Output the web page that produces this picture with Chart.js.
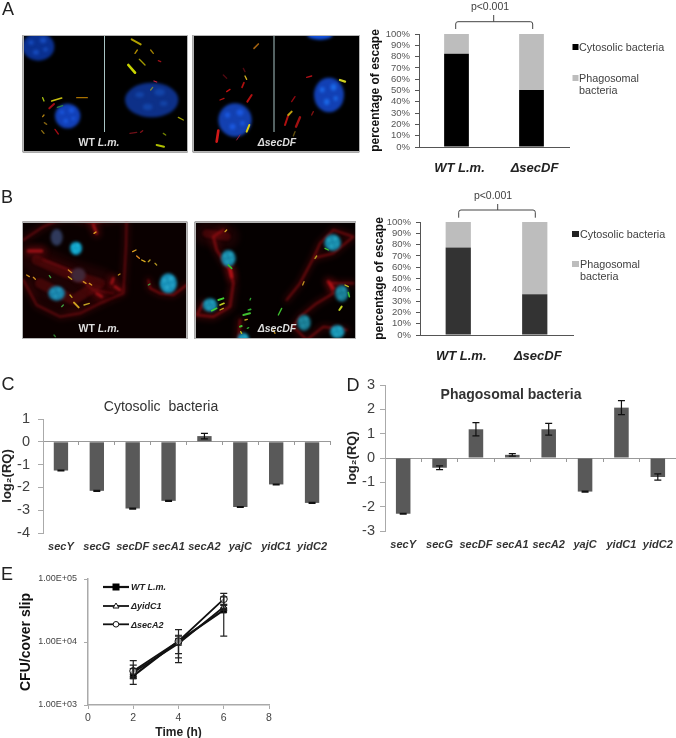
<!DOCTYPE html>
<html>
<head>
<meta charset="utf-8">
<script src="https://cdn.jsdelivr.net/npm/chart.js@4"></script>
<style>
html,body{margin:0;padding:0;background:#fff}
#page{position:relative;width:676px;height:738px;overflow:hidden;background:#fff;font-family:"Liberation Sans",Arial,sans-serif}
#page canvas{position:absolute;display:block}
#page svg{position:absolute;left:0;top:0}
.t{position:absolute;white-space:nowrap;transform:translate(-50%,-50%);line-height:1}
.l{position:absolute;white-space:nowrap;transform:translateY(-50%);line-height:1}
</style>
</head>
<body>
<div id="page"></div>
<script>
// ---------- data ----------
const escapeCategories = ['WT L.m.', '\u0394secDF'];
const cytosolicA = [82.5, 50.5];
const phagosomalA = [17.5, 49.5];
const cytosolicB = [77.5, 36];
const phagosomalB = [22.5, 64];
const geneCategories = ['secY', 'secG', 'secDF', 'secA1', 'secA2', 'yajC', 'yidC1', 'yidC2'];
const cytosolicRQ = [-1.26, -2.15, -2.93, -2.59, 0.25, -2.86, -1.87, -2.68];
const cytosolicErr = [0.02, 0.02, 0.02, 0.02, 0.12, 0.02, 0.02, 0.02];
const phagosomalRQ = [-2.29, -0.40, 1.18, 0.13, 1.18, -1.38, 2.07, -0.78];
const phagosomalErr = [0.02, 0.08, 0.27, 0.05, 0.24, 0.02, 0.29, 0.13];
const hours = [2, 4, 6];
const wtCFU = [2900, 10300, 32100];
const wtLow = [2130, 4700, 12400];
const wtHigh = [4280, 15700, 52000];
const yidCFU = [3270, 9450, 36000];
const yidLow = [2790, 6550, 32000];
const yidHigh = [3780, 12800, 39500];
const secCFU = [3470, 10300, 48000];
const secLow = [2620, 5600, 38000];
const secHigh = [5080, 12400, 59000];
const logTicks = [1000, 10000, 100000];
const logTickLabels = ['1.00E+03', '1.00E+04', '1.00E+05'];

// ---------- helpers ----------
const page = document.getElementById('page');
const FF = '"Liberation Sans", Arial, sans-serif';
function addCanvas(left, top, w, h) {
  const c = document.createElement('canvas');
  c.width = w; c.height = h;
  c.style.left = left + 'px'; c.style.top = top + 'px';
  c.style.width = w + 'px'; c.style.height = h + 'px';
  page.appendChild(c);
  return c;
}
function text(cls, x, y, html, size, color, weight, style) {
  const d = document.createElement('div');
  d.className = cls;
  d.style.left = x + 'px'; d.style.top = y + 'px';
  d.style.fontSize = size + 'px'; d.style.color = color;
  if (weight) d.style.fontWeight = weight;
  if (style) d.style.fontStyle = style;
  d.innerHTML = html;
  page.appendChild(d);
}
const errorBars = {
  id: 'errorBars',
  afterDatasetsDraw(chart) {
    const ctx = chart.ctx;
    chart.data.datasets.forEach((ds, i) => {
      if (!ds.errLow) return;
      const meta = chart.getDatasetMeta(i);
      const ys = chart.scales.y;
      ctx.save();
      ctx.strokeStyle = ds.errColor || '#111';
      ctx.lineWidth = ds.errWidth || 1;
      meta.data.forEach((el, k) => {
        const x = el.x, a = ys.getPixelForValue(ds.errLow[k]), b = ys.getPixelForValue(ds.errHigh[k]), cap = ds.errCap || 3.5;
        ctx.beginPath();
        ctx.moveTo(x, a); ctx.lineTo(x, b);
        ctx.moveTo(x - cap, a); ctx.lineTo(x + cap, a);
        ctx.moveTo(x - cap, b); ctx.lineTo(x + cap, b);
        ctx.stroke();
      });
      ctx.restore();
    });
  }
};
function fixedW(w) { return s => { s.width = w; s.paddingTop = 0; s.paddingBottom = 0; }; }
function fixedH(h) { return s => { s.height = h; s.paddingLeft = 0; s.paddingRight = 0; }; }

function escapeChart(box, dark, cyto, phago) {
  const cv = addCanvas(box.left, box.top, box.w, box.h);
  new Chart(cv, {
    type: 'bar',
    data: { labels: escapeCategories, datasets: [
      { label: 'Cytosolic bacteria', data: cyto, backgroundColor: dark, categoryPercentage: 0.33, barPercentage: 1 },
      { label: 'Phagosomal bacteria', data: phago, backgroundColor: '#bdbdbd', categoryPercentage: 0.33, barPercentage: 1 }
    ]},
    options: {
      responsive: false, animation: false, devicePixelRatio: 1,
      layout: { autoPadding: false, padding: { top: box.pt, right: box.pr, left: 0, bottom: 0 } },
      plugins: { legend: { display: false }, tooltip: { enabled: false } },
      scales: {
        x: { stacked: true, afterFit: fixedH(box.mb),
          grid: { display: false, drawTicks: false }, border: { display: true, color: '#555', width: 1 },
          ticks: { padding: box.lp, labelOffset: 3, autoSkip: false, minRotation: 0, maxRotation: 0, color: '#222',
            font: { family: FF, size: 13, weight: 'bold', style: 'italic' } } },
        y: { stacked: true, min: 0, max: 100, afterFit: fixedW(box.ml),
          grid: { drawOnChartArea: false, tickLength: 4, tickColor: '#555' }, border: { color: '#555', width: 1 },
          title: { display: true, text: 'percentage of escape', color: '#111', padding: 0, font: { family: FF, size: 12, weight: 'bold' } },
          ticks: { stepSize: 10, autoSkip: false, padding: 5, color: '#555', callback: v => v + '%', font: { family: FF, size: 9.5 } } }
      }
    }
  });
}
function geneChart(box, vals, errs, min, max) {
  const cv = addCanvas(box.left, box.top, box.w, box.h);
  new Chart(cv, {
    type: 'bar',
    plugins: [errorBars],
    data: { labels: geneCategories, datasets: [{
      label: box.name, data: vals, backgroundColor: '#595959', xAxisID: 'x', yAxisID: 'y',
      categoryPercentage: 0.4, barPercentage: 1,
      errLow: vals.map((v, i) => v - errs[i]), errHigh: vals.map((v, i) => v + errs[i]), errCap: 3.5, errWidth: 1.2
    }]},
    options: {
      responsive: false, animation: false, devicePixelRatio: 1,
      layout: { autoPadding: false, padding: { top: box.pt, right: box.pr, left: 0, bottom: 0 } },
      plugins: { legend: { display: false }, tooltip: { enabled: false } },
      scales: {
        x: { position: 'bottom', afterFit: fixedH(box.mb), grid: { display: false, drawTicks: false }, border: { display: false },
          ticks: { padding: box.lp, autoSkip: false, minRotation: 0, maxRotation: 0, color: '#333',
            font: { family: FF, size: 11, weight: 'bold', style: 'italic' } } },
        x0: { type: 'category', labels: geneCategories, position: { y: 0 }, afterFit: fixedH(0), grid: { drawOnChartArea: false, offset: true, tickLength: 3, tickColor: '#999' },
          border: { color: '#999', width: 1 }, ticks: { display: false } },
        y: { min, max, afterFit: fixedW(box.ml),
          grid: { drawOnChartArea: false, tickLength: 5, tickColor: '#aaa' }, border: { color: '#aaa', width: 1 },
          title: { display: true, text: 'log\u2082(RQ)', color: '#222', padding: 0, font: { family: FF, size: 13, weight: 'bold' } },
          ticks: { stepSize: 1, autoSkip: false, padding: box.yp, color: '#404040', font: { family: FF, size: 14.5 } } }
      }
    }
  });
}

// ---------- micrographs (illustrative images, not data) ----------
const mc = addCanvas(0, 0, 676, 738).getContext('2d');
function panel(x0, y0, x1, y1, bg, paint) {
  // geometry given in 3x crop pixels
  mc.save();
  mc.fillStyle = bg;
  mc.fillRect(x0 / 3, y0 / 3, (x1 - x0) / 3, (y1 - y0) / 3);
  mc.beginPath(); mc.rect(x0 / 3, y0 / 3, (x1 - x0) / 3, (y1 - y0) / 3); mc.clip();
  paint();
  mc.restore();
  mc.strokeStyle = '#b5b5b5'; mc.lineWidth = 1;
  mc.strokeRect(Math.round(x0 / 3) + .5, Math.round(y0 / 3) + .5, Math.round((x1 - x0) / 3) - 1, Math.round((y1 - y0) / 3) - 1);
}
function nuc(n) {
  const [x, y, rx, ry, c, hi] = n;
  mc.save();
  mc.filter = 'blur(1.5px)';
  mc.translate(x / 3, y / 3); mc.scale(rx / 3, ry / 3);
  mc.fillStyle = c;
  mc.beginPath(); mc.arc(0, 0, 1, 0, 7); mc.fill();
  if (hi) {
    mc.fillStyle = hi;
    [[-.45, -.3, .16], [.3, -.45, .2], [.45, .2, .14], [-.15, .4, .18]].forEach(p => { mc.beginPath(); mc.arc(p[0], p[1], p[2], 0, 7); mc.fill(); });
  }
  mc.restore();
}
function rods(list, defW) {
  mc.save();
  mc.filter = 'blur(0.7px)'; mc.lineCap = 'round';
  list.forEach(r => {
    mc.strokeStyle = r[4]; mc.lineWidth = (r[5] || defW) / 3;
    mc.beginPath(); mc.moveTo(r[0] / 3, r[1] / 3); mc.lineTo(r[2] / 3, r[3] / 3); mc.stroke();
  });
  mc.restore();
}
function web(list) {
  mc.save();
  mc.lineJoin = 'round'; mc.lineCap = 'round';
  list.forEach(w => {
    const path = () => { mc.beginPath(); w.p.forEach((q, i) => i ? mc.lineTo(q[0] / 3, q[1] / 3) : mc.moveTo(q[0] / 3, q[1] / 3)); mc.stroke(); };
    mc.filter = 'blur(3px)'; mc.globalAlpha = .35;
    mc.strokeStyle = w.c; mc.lineWidth = w.w;
    path();
    mc.filter = 'blur(' + w.b + 'px)'; mc.globalAlpha = .8;
    mc.lineWidth = w.w / 3;
    path();
  });
  mc.restore();
}
panel(68, 105, 563, 457, '#000', () => {
  [[115, 140, 48, 42, '#0a3090', '#164cc0'], [203, 348, 38, 37, '#1240b8', '#1a58e0'], [455, 300, 80, 52, '#0d3088', '#1344a8']].forEach(nuc);
  mc.fillStyle = '#a8c4c4'; mc.fillRect(104, 36, 1, 96);
  rods([[395, 118, 422, 133, '#b0a000', 6], [405, 160, 412, 150, '#b08c00'], [452, 150, 460, 160, '#a08000'], [418, 178, 435, 195, '#a09800'], [385, 195, 405, 218, '#c8d400', 8], [128, 293, 132, 303, '#a8c010'], [155, 303, 185, 294, '#c8c010', 5], [230, 293, 262, 293, '#a87000', 4], [148, 325, 162, 312, '#a00c14', 6], [172, 322, 188, 317, '#308040'], [128, 350, 132, 345, '#b08010'], [133, 368, 140, 373, '#806010'], [125, 392, 132, 400, '#907010'], [165, 388, 175, 402, '#a00c14'], [482, 185, 475, 182, '#a01018'], [462, 243, 470, 246, '#c02040'], [458, 262, 452, 270, '#708040'], [535, 352, 550, 360, '#a0a000'], [390, 400, 410, 397, '#701018'], [422, 397, 428, 392, '#801018'], [490, 400, 497, 405, '#708000'], [470, 435, 492, 440, '#b0c000', 6]], 4);
});
panel(578, 105, 1078, 457, '#000', () => {
  [[960, 105, 38, 14, '#1050e0'], [705, 360, 50, 50, '#1340b0', '#1a58e0'], [987, 285, 45, 52, '#1240b4', '#1a68e8']].forEach(nuc);
  mc.fillStyle = '#a8c4c4'; mc.fillRect(273.5, 36, 1, 96);
  rods([[762, 145, 775, 132, '#a06010', 5], [670, 225, 680, 235, '#500810'], [730, 205, 735, 215, '#500810'], [735, 228, 740, 238, '#d0b020'], [726, 262, 732, 248, '#b01010', 5], [680, 275, 690, 268, '#c01010'], [660, 300, 672, 295, '#b01010'], [742, 305, 755, 285, '#b01010', 6], [920, 232, 935, 228, '#b01018'], [1020, 240, 1035, 245, '#d0d020', 7], [875, 305, 885, 290, '#900810'], [855, 375, 865, 345, '#b01010', 6], [865, 345, 875, 335, '#c0a010', 6], [888, 380, 900, 352, '#a01010', 7], [650, 425, 655, 392, '#d01818', 8], [740, 395, 748, 375, '#e0d010', 6], [710, 420, 720, 405, '#a02040', 3], [880, 408, 885, 395, '#605010'], [935, 345, 940, 335, '#801010']], 4);
});
panel(67, 665, 562, 1017, '#0a0000', () => {
  mc.translate(0, -40);
  web([
    { b: 1.2, c: 'rgba(120,12,16,.5)', w: 30, p: [[110, 900], [200, 940], [300, 970], [220, 1020], [120, 970]] },
    { b: 1.2, c: 'rgba(140,15,20,.7)', w: 6, p: [[70, 840], [130, 800], [200, 770], [280, 790], [380, 770], [378, 860], [370, 1000], [300, 1030], [240, 1060], [180, 1070], [110, 1035], [70, 960]] },
    { b: 1.2, c: 'rgba(140,15,20,.6)', w: 5, p: [[130, 900], [210, 930], [280, 990], [340, 1000]] },
    { b: 1, c: 'rgba(190,20,25,.9)', w: 9, p: [[85, 873], [125, 873]] },
    { b: 1, c: 'rgba(190,20,25,.9)', w: 8, p: [[280, 795], [290, 820]] },
    { b: 1, c: 'rgba(190,20,25,.9)', w: 8, p: [[340, 955], [335, 970]] },
    { b: 1, c: 'rgba(190,20,25,.9)', w: 8, p: [[345, 980], [360, 990]] },
    { b: 1, c: 'rgba(190,20,25,.9)', w: 8, p: [[290, 1000], [305, 1010]] },
    { b: 1, c: 'rgba(170,15,20,.85)', w: 5, p: [[445, 960], [450, 985], [480, 1000], [520, 1005], [560, 975]] }
  ]);
  [[228, 865, 18, 20, '#10a0c8', '#30d0e8'], [170, 832, 18, 25, '#303a5c'], [170, 1000, 25, 22, '#1880a8', '#30a8c8'], [505, 970, 26, 30, '#1890b8', '#38b8d8'], [235, 945, 22, 22, '#402838']].forEach(nuc);
  rods([[282, 820, 288, 816, '#e0a020'], [398, 875, 408, 870, '#e0a020'], [410, 888, 418, 895, '#e08820'], [425, 900, 435, 905, '#e0b020'], [445, 905, 450, 900, '#c0a020'], [465, 910, 470, 915, '#b09020'], [80, 945, 88, 950, '#d09020'], [100, 952, 106, 958, '#d09020'], [148, 947, 152, 953, '#40a040'], [205, 930, 215, 938, '#d08820'], [205, 950, 215, 958, '#c0a020'], [250, 965, 258, 970, '#d09020'], [268, 970, 275, 975, '#d09020'], [355, 945, 360, 942, '#c09020'], [210, 1005, 216, 1012, '#c0a020'], [222, 1028, 236, 1042, '#d0a020', 6], [252, 1035, 268, 1030, '#c0a020'], [185, 1040, 190, 1035, '#40a040'], [445, 975, 450, 972, '#40a040'], [162, 1125, 166, 1130, '#308030']], 4);
});
panel(584, 665, 1068, 1017, '#050000', () => {
  mc.translate(0, -40);
  web([
    { b: 1.2, c: 'rgba(120,10,15,.5)', w: 25, p: [[620, 820], [680, 830]] },
    { b: 1.2, c: 'rgba(160,15,20,.75)', w: 8, p: [[610, 1030], [590, 1065], [640, 1070], [690, 1040], [700, 970], [690, 930], [650, 870], [640, 830], [670, 810]] },
    { b: 1.2, c: 'rgba(160,15,20,.75)', w: 6, p: [[940, 895], [1000, 880], [1060, 830], [1000, 810], [960, 850], [940, 895], [900, 970], [860, 1020]] },
    { b: 1.2, c: 'rgba(160,15,20,.75)', w: 6, p: [[1060, 970], [990, 970], [1000, 1000], [950, 1030], [900, 1070], [880, 1100], [920, 1140], [970, 1100], [1040, 1110]] },
    { b: 1.2, c: 'rgba(160,15,20,.7)', w: 7, p: [[720, 1080], [715, 1150]] },
    { b: 1, c: 'rgba(200,20,25,.9)', w: 9, p: [[690, 925], [695, 950]] },
    { b: 1, c: 'rgba(200,20,25,.9)', w: 9, p: [[985, 965], [1000, 985]] }
  ]);
  [[685, 895, 22, 25, '#1888a8', '#30b8d0'], [630, 1035, 22, 20, '#1888a8', '#30b8d0'], [998, 848, 25, 25, '#1888a8', '#30b8d0'], [1025, 1000, 20, 25, '#187890', '#30a8c0'], [912, 1088, 20, 24, '#187890', '#30a8c0'], [1012, 1115, 22, 20, '#1890b0', '#30c0d8'], [730, 1140, 18, 22, '#1890b0', '#30c8e0']].forEach(nuc);
  rods([[675, 815, 680, 810, '#d0a020'], [685, 915, 695, 925, '#30c030', 5], [655, 1020, 670, 1015, '#40d030', 6], [660, 1035, 672, 1030, '#c0d020', 5], [635, 1052, 650, 1045, '#40d030', 5], [660, 1050, 670, 1045, '#c0a020'], [750, 1020, 752, 1015, '#30a030'], [745, 1050, 752, 1048, '#30b030', 5], [730, 1065, 750, 1060, '#40c030', 6], [735, 1080, 742, 1078, '#c0a020'], [720, 1100, 725, 1098, '#40c030', 6], [742, 1105, 746, 1103, '#30a030'], [722, 1115, 725, 1120, '#c0c020'], [835, 1065, 845, 1045, '#40c030', 4], [820, 1110, 825, 1120, '#c09020'], [908, 975, 912, 965, '#c09020'], [945, 895, 950, 888, '#b0a020'], [975, 865, 985, 870, '#40c030'], [1035, 975, 1045, 980, '#c0c020'], [1045, 998, 1048, 1010, '#40c030', 5], [1018, 1050, 1025, 1040, '#c0d020', 6]], 4);
});

// ---------- charts ----------
escapeChart({ left: 368, top: 24, w: 207, h: 156, pt: 10, pr: 6, ml: 51, mb: 33, lp: 14 }, '#000', cytosolicA, phagosomalA);
escapeChart({ left: 372, top: 212, w: 207, h: 158, pt: 10, pr: 6, ml: 48, mb: 35, lp: 14 }, '#333', cytosolicB, phagosomalB);
geneChart({ name: 'Cytosolic bacteria', left: 0, top: 410, w: 336, h: 146, pt: 9, pr: 6, ml: 43, mb: 23, lp: 7, yp: 8 }, cytosolicRQ, cytosolicErr, -4, 1);
geneChart({ name: 'Phagosomal bacteria', left: 345, top: 378, w: 331, h: 176, pt: 7, pr: 0, ml: 40, mb: 23, lp: 7, yp: 5 }, phagosomalRQ, phagosomalErr, -3, 3);

const cvE = addCanvas(18, 570, 262, 170);
const lineDs = (label, data, low, high, style, r, fill, w) => ({
  label, data, xAxisID: 'x', yAxisID: 'y', borderColor: '#111', borderWidth: w, tension: 0,
  pointStyle: style, pointRadius: r, pointBackgroundColor: fill, pointBorderColor: '#111', pointBorderWidth: 1,
  errLow: low, errHigh: high, errCap: 3.5, errWidth: 1.2, errColor: '#222'
});
new Chart(cvE, {
  type: 'line',
  plugins: [errorBars],
  data: { labels: hours, datasets: [
    lineDs('\u0394secA2', hours.map((h, i) => ({ x: h, y: secCFU[i] })), secLow, secHigh, 'circle', 3.5, 'rgba(255,255,255,.55)', 1.8),
    lineDs('\u0394yidC1', hours.map((h, i) => ({ x: h, y: yidCFU[i] })), yidLow, yidHigh, 'triangle', 3.5, 'rgba(255,255,255,.55)', 1.8),
    lineDs('WT L.m.', hours.map((h, i) => ({ x: h, y: wtCFU[i] })), wtLow, wtHigh, 'rect', 4, '#000', 2.2)
  ]},
  options: {
    responsive: false, animation: false, devicePixelRatio: 1,
    layout: { autoPadding: false, padding: { top: 9, right: 11, left: 0, bottom: 0 } },
    plugins: { legend: { display: false }, tooltip: { enabled: false } },
    scales: {
      x: { type: 'linear', min: 0, max: 8, afterFit: fixedH(35),
        grid: { drawOnChartArea: false, tickLength: 4, tickColor: '#aaa' }, border: { color: '#aaa', width: 1.5 },
        title: { display: true, text: 'Time (h)', color: '#222', padding: 0, font: { family: FF, size: 12, weight: 'bold' } },
        ticks: { stepSize: 2, padding: 3, color: '#444', font: { family: FF, size: 10.5 } } },
      y: { type: 'logarithmic', min: logTicks[0], max: logTicks[2], afterFit: fixedW(70),
        afterBuildTicks: s => { s.ticks = logTicks.map(v => ({ value: v })); },
        grid: { drawOnChartArea: false, tickLength: 4, tickColor: '#aaa' }, border: { color: '#aaa', width: 1.5 },
        title: { display: true, text: 'CFU/cover slip', color: '#111', padding: 0, font: { family: FF, size: 14, weight: 'bold' } },
        ticks: { padding: 7, autoSkip: false, color: '#444', callback: v => logTickLabels[logTicks.indexOf(v)], font: { family: FF, size: 9 } } }
    }
  }
});

// ---------- annotations ----------
const svgNS = 'http://www.w3.org/2000/svg';
const svg = document.createElementNS(svgNS, 'svg');
svg.setAttribute('width', 676); svg.setAttribute('height', 738);
svg.innerHTML =
  '<path d="M455.7 29 V24 Q455.7 21.7 458 21.7 H530.4 Q532.7 21.7 532.7 24 V29 M493.7 15 V21.7" fill="none" stroke="#444" stroke-width="1"/>' +
  '<path d="M458.7 217.7 V212.3 Q458.7 210 461 210 H533 Q535.3 210 535.3 212.3 V217.7 M497.7 204 V210" fill="none" stroke="#444" stroke-width="1"/>' +
  '<rect x="572.5" y="44" width="6" height="6" fill="#000"/><rect x="572.5" y="75" width="6" height="6" fill="#bdbdbd"/>' +
  '<rect x="572" y="231" width="7" height="6" fill="#222"/><rect x="572" y="261" width="7" height="6" fill="#bdbdbd"/>' +
  '<g stroke="#111" fill="none"><path d="M103 587 H129" stroke-width="2.2"/><path d="M103 606 H129" stroke-width="1.8"/><path d="M103 624.3 H129" stroke-width="1.8"/></g>' +
  '<rect x="112.5" y="583.5" width="7" height="7" fill="#000"/>' +
  '<path d="M116 603 L119 608 H113 Z" fill="#fff" stroke="#111"/><circle cx="116" cy="624.3" r="2.8" fill="#fff" stroke="#111"/>';
page.appendChild(svg);

const ink = '#404040';
[['A', 8, 9], ['B', 7, 197], ['C', 8, 384], ['D', 353, 385], ['E', 7, 574]].forEach(a => text('t', a[1], a[2], a[0], 18, '#222'));
text('t', 490, 6, 'p&lt;0.001', 10.5, ink);
text('t', 493, 195, 'p&lt;0.001', 10.5, ink);
text('l', 579, 47, 'Cytosolic bacteria', 10.8, ink);
text('l', 579, 78, 'Phagosomal', 10.8, ink);
text('l', 579, 90, 'bacteria', 10.8, ink);
text('l', 580, 234, 'Cytosolic bacteria', 10.8, ink);
text('l', 580, 264, 'Phagosomal', 10.8, ink);
text('l', 580, 276, 'bacteria', 10.8, ink);
text('t', 161, 406, 'Cytosolic&nbsp; bacteria', 14, '#333');
text('t', 511, 394, 'Phagosomal bacteria', 14, '#333', 'bold');
text('t', 99, 142, 'WT <i>L.m.</i>', 10.5, '#ddd', 'bold');
text('t', 277, 142, '\u0394secDF', 10.5, '#ddd', 'bold', 'italic');
text('t', 99, 328, 'WT <i>L.m.</i>', 10.5, '#ddd', 'bold');
text('t', 277, 328, '\u0394secDF', 10.5, '#ddd', 'bold', 'italic');
text('l', 131, 587, 'WT L.m.', 9, '#222', 'bold', 'italic');
text('l', 131, 606, '\u0394yidC1', 9, '#222', 'bold', 'italic');
text('l', 131, 624.5, '\u0394secA2', 9, '#222', 'bold', 'italic');
</script>
</body>
</html>
